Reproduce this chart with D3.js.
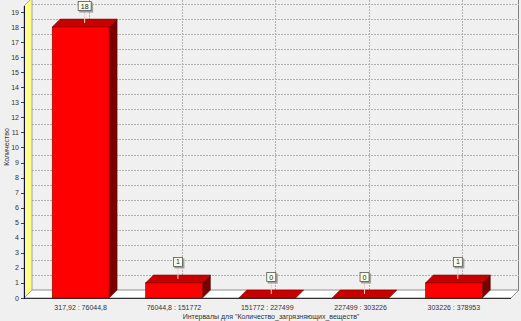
<!DOCTYPE html>
<html>
<head>
<meta charset="utf-8">
<script src="https://cdn.jsdelivr.net/npm/d3@7"></script>
<style>
  body { margin: 0; background: #f0f0f0; }
  svg { display: block; font-family: "Liberation Sans", Arial, sans-serif; }
</style>
</head>
<body>
<svg id="chart" width="521" height="321"></svg>
<script>
// chart data
var categories = ["317,92 : 76044,8", "76044,8 : 151772", "151772 : 227499", "227499 : 303226", "303226 : 378953"];
var counts = [18, 1, 0, 0, 1];
var yTicks = [0, 1, 2, 3, 4, 5, 6, 7, 8, 9, 10, 11, 12, 13, 14, 15, 16, 17, 18, 19];
var yTitle = "Количество";
var xTitle = "Интервалы для \"Количество_загрязняющих_веществ\"";

var svg = d3.select("#chart");
var W = 521, H = 321;
var D = 8; // 3d depth offset
// note: "top" is reserved on window, so use plot* names
var plotLeft = 24, plotRight = 511, plotBottom = 298, plotTop = 6;
var yMax = 19.4;

var x = d3.scaleBand()
    .domain(categories)
    .range([34, 500.5])
    .paddingInner(0.39)
    .paddingOuter(0.195);

var y = d3.scaleLinear()
    .domain([0, yMax])
    .range([plotBottom, plotTop]);

svg.append("rect").attr("width", W).attr("height", H).attr("fill", "#f0f0f0");

// back plane right border
svg.append("line")
    .attr("x1", plotRight + D - 0.5).attr("x2", plotRight + D - 0.5)
    .attr("y1", 0).attr("y2", plotBottom - D)
    .attr("stroke", "#808080").attr("stroke-width", 1);

// horizontal grid lines on back plane
svg.append("g").selectAll("line")
    .data(yTicks.slice(1))
    .join("line")
    .attr("x1", plotLeft + D).attr("x2", plotRight + D)
    .attr("y1", function(d){ return Math.round(y(d) - D) + 0.5; })
    .attr("y2", function(d){ return Math.round(y(d) - D) + 0.5; })
    .attr("stroke", "#b0b0b0")
    .attr("stroke-dasharray", "2,1");

// vertical grid lines on back plane
svg.append("g").selectAll("line")
    .data(categories)
    .join("line")
    .attr("x1", function(d){ return Math.round(x(d) + x.bandwidth() / 2 + D) + 0.5; })
    .attr("x2", function(d){ return Math.round(x(d) + x.bandwidth() / 2 + D) + 0.5; })
    .attr("y1", 0).attr("y2", plotBottom - D)
    .attr("stroke", "#b0b0b0")
    .attr("stroke-dasharray", "2,1");

// floor
svg.append("polygon")
    .attr("points", [[plotLeft, plotBottom], [plotRight, plotBottom], [plotRight + D, plotBottom - D], [plotLeft + D, plotBottom - D]].join(" "))
    .attr("fill", "#ffffff")
    .attr("stroke", "#909090")
    .attr("stroke-width", 1);
svg.append("line")
    .attr("x1", plotLeft).attr("x2", plotRight)
    .attr("y1", plotBottom + 0.5).attr("y2", plotBottom + 0.5)
    .attr("stroke", "#303030");

// left wall
svg.append("polygon")
    .attr("points", [[plotLeft, y(yMax)], [plotLeft, plotBottom], [plotLeft + D, plotBottom - D], [plotLeft + D, y(yMax) - D]].join(" "))
    .attr("fill", "#ffff88")
    .attr("stroke", "#909090")
    .attr("stroke-width", 0.8);
svg.append("line")
    .attr("x1", plotLeft + 0.5).attr("x2", plotLeft + 0.5)
    .attr("y1", y(yMax)).attr("y2", plotBottom + 1)
    .attr("stroke", "#101040");

// y ticks and labels
var yAxis = svg.append("g");
yAxis.selectAll("line")
    .data(yTicks)
    .join("line")
    .attr("x1", plotLeft - 3).attr("x2", plotLeft)
    .attr("y1", function(d){ return Math.round(y(d)) + 0.5; })
    .attr("y2", function(d){ return Math.round(y(d)) + 0.5; })
    .attr("stroke", "#404040");
yAxis.selectAll("text")
    .data(yTicks)
    .join("text")
    .attr("x", plotLeft - 5)
    .attr("y", function(d){ return y(d) + 2.5; })
    .attr("text-anchor", "end")
    .attr("font-size", 7)
    .attr("fill", "#333")
    .text(function(d){ return d; });

svg.append("text")
    .attr("transform", "translate(9,147) rotate(-90)")
    .attr("text-anchor", "middle")
    .attr("font-size", 7)
    .attr("fill", "#333")
    .text(yTitle);

// bars
var bars = svg.append("g").selectAll("g")
    .data(categories)
    .join("g");

bars.each(function(d, i){
    var g = d3.select(this);
    var x0 = x(d), x1 = x(d) + x.bandwidth();
    var yt = y(counts[i]);
    if (counts[i] > 0) {
        // side face
        g.append("polygon")
            .attr("points", [[x1, yt], [x1 + D, yt - D], [x1 + D, plotBottom - D], [x1, plotBottom]].join(" "))
            .attr("fill", "#7a0000")
            .attr("stroke", "#500000").attr("stroke-width", 0.5);
    }
    // top face
    g.append("polygon")
        .attr("points", [[x0, yt], [x0 + D, yt - D], [x1 + D, yt - D], [x1, yt]].join(" "))
        .attr("fill", "#c80000")
        .attr("stroke", "#700000").attr("stroke-width", 0.5);
    if (counts[i] > 0) {
        // front face
        g.append("rect")
            .attr("x", x0).attr("y", yt)
            .attr("width", x.bandwidth()).attr("height", plotBottom - yt)
            .attr("fill", "#ff0000")
            .attr("stroke", "#700000").attr("stroke-width", 0.5);
    }
});

// value labels
var labels = svg.append("g").selectAll("g")
    .data(categories)
    .join("g")
    .attr("transform", function(d, i){
        var cx = x(d) + x.bandwidth() / 2 + D / 2;
        var cy = y(counts[i]) - D / 2;
        return "translate(" + cx + "," + cy + ")";
    });

labels.append("line")
    .attr("x1", 0).attr("x2", 0)
    .attr("y1", 0).attr("y2", -11)
    .attr("stroke", "#f0d0d0").attr("stroke-width", 1);

labels.each(function(d, i){
    var g = d3.select(this);
    var txt = String(counts[i]);
    var bw = txt.length > 1 ? 14 : 10;
    g.append("rect")
        .attr("x", -bw / 2 + 1.5).attr("y", -20.5)
        .attr("width", bw).attr("height", 10)
        .attr("fill", "#a0a0a0");
    g.append("rect")
        .attr("x", -bw / 2 + 0.5).attr("y", -21.5)
        .attr("width", bw - 1).attr("height", 9)
        .attr("fill", "#fbfbe6")
        .attr("stroke", "#555").attr("stroke-width", 0.8);
    g.append("text")
        .attr("x", 0).attr("y", -14.5)
        .attr("text-anchor", "middle")
        .attr("font-size", 7)
        .attr("fill", "#222")
        .text(txt);
});

// x labels
svg.append("g").selectAll("text")
    .data(categories)
    .join("text")
    .attr("x", function(d){ return x(d) + x.bandwidth() / 2; })
    .attr("y", 310)
    .attr("text-anchor", "middle")
    .attr("font-size", 7)
    .attr("fill", "#333")
    .text(function(d){ return d; });

svg.append("text")
    .attr("x", 271)
    .attr("y", 319)
    .attr("text-anchor", "middle")
    .attr("font-size", 7)
    .attr("fill", "#333")
    .text(xTitle);
</script>
</body>
</html>
